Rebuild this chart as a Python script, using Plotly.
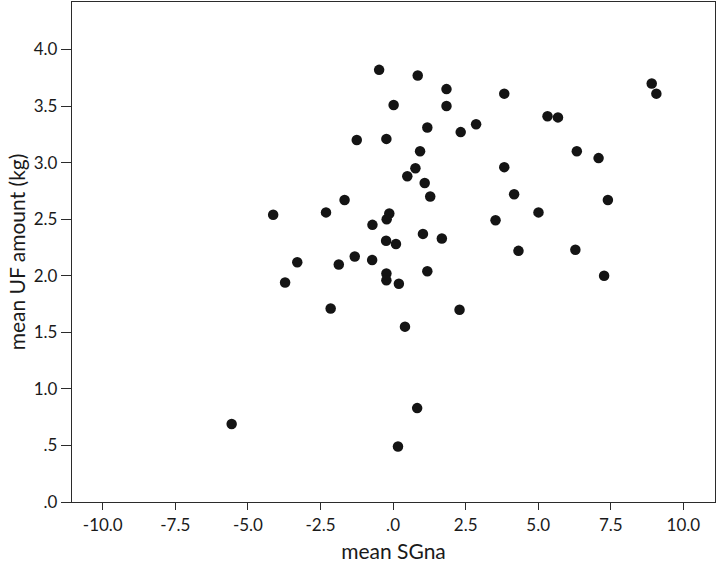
import plotly.graph_objects as go

# mean SGna (x) and mean UF amount in kg (y)
sgna = [
    -0.48, 0.02, -1.25, -0.23, 0.49, -1.67, -4.13, -2.31, -0.13, -0.22,
    -0.71, -0.24, 0.10, -1.32, -0.72, -3.30, -1.87, -3.72, -0.23, -0.23,
    0.20, -2.15, 0.41, 0.83, -5.56, 0.17, 0.85, 1.84, 3.83, 1.84,
    5.32, 5.68, 1.18, 2.86, 2.33, 0.93, 6.33, 7.08, 0.77, 3.83,
    1.09, 1.28, 4.17, 5.01, 3.53, 1.03, 1.68, 4.32, 6.28, 1.18,
    2.29, 7.40, 7.27, 8.91, 9.07,
]
uf_amount = [
    3.82, 3.51, 3.20, 3.21, 2.88, 2.67, 2.54, 2.56, 2.55, 2.50,
    2.45, 2.31, 2.28, 2.17, 2.14, 2.12, 2.10, 1.94, 2.02, 1.96,
    1.93, 1.71, 1.55, 0.83, 0.69, 0.49, 3.77, 3.65, 3.61, 3.50,
    3.41, 3.40, 3.31, 3.34, 3.27, 3.10, 3.10, 3.04, 2.95, 2.96,
    2.82, 2.70, 2.72, 2.56, 2.49, 2.37, 2.33, 2.22, 2.23, 2.04,
    1.70, 2.67, 2.00, 3.70, 3.61,
]

x_ticks = [-10.0, -7.5, -5.0, -2.5, 0.0, 2.5, 5.0, 7.5, 10.0]
x_labels = ["-10.0", "-7.5", "-5.0", "-2.5", ".0", "2.5", "5.0", "7.5", "10.0"]
y_ticks = [0.0, 0.5, 1.0, 1.5, 2.0, 2.5, 3.0, 3.5, 4.0]
y_labels = [".0", ".5", "1.0", "1.5", "2.0", "2.5", "3.0", "3.5", "4.0"]

FONT = "Lato"
AXIS_COLOR = "#2b2b2b"

fig = go.Figure()
fig.add_trace(go.Scatter(
    x=sgna,
    y=uf_amount,
    mode="markers",
    marker=dict(size=10.5, color="#141414", line=dict(width=0)),
    showlegend=False,
))

fig.update_layout(
    width=717,
    height=567,
    margin=dict(l=72, r=2, t=2, b=65),
    paper_bgcolor="white",
    plot_bgcolor="white",
    font=dict(family=FONT, size=17, color="#1a1a1a"),
    xaxis=dict(
        range=[-11.06, 11.09],
        tickvals=x_ticks,
        ticktext=x_labels,
        ticks="outside",
        ticklen=7,
        tickwidth=1.2,
        tickcolor=AXIS_COLOR,
        showline=True,
        linecolor=AXIS_COLOR,
        linewidth=1.3,
        mirror=True,
        showgrid=False,
        zeroline=False,
        title=dict(text="mean SGna", font=dict(size=21), standoff=10),
    ),
    yaxis=dict(
        range=[0, 4.42],
        tickvals=y_ticks,
        ticktext=y_labels,
        ticks="outside",
        ticklen=10,
        tickwidth=1.2,
        tickcolor=AXIS_COLOR,
        showline=True,
        linecolor=AXIS_COLOR,
        linewidth=1.3,
        mirror=True,
        showgrid=False,
        zeroline=False,
        title=dict(text="mean UF amount (kg)", font=dict(size=21), standoff=2),
    ),
)

# the page body has a default 8px margin; drop it so the figure sits at the window origin
fig.write_html(
    "out.html",
    config={"displayModeBar": False},
    post_script="document.body.style.margin = '0';",
)
